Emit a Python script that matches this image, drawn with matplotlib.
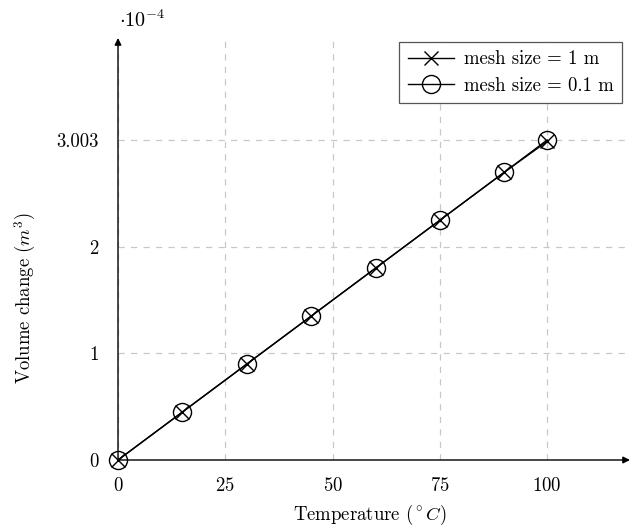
import matplotlib
matplotlib.use("Agg")
import matplotlib.pyplot as plt

plt.rcParams['font.family'] = 'serif'
plt.rcParams['font.serif'] = ['cmr10']
plt.rcParams['mathtext.fontset'] = 'cm'
plt.rcParams['axes.formatter.use_mathtext'] = True

temps = [0, 15, 30, 45, 60, 75, 90, 100]
vol_1m = [0, 0.45, 0.90, 1.35, 1.80, 2.25, 2.70, 2.99]
vol_01m = [0, 0.45, 0.90, 1.35, 1.80, 2.25, 2.70, 3.003]
xticks = [0, 25, 50, 75, 100]
yticks = [0, 1, 2, 3.003]
yticklabels = ['0', '1', '2', '3.003']

FS = 13.5

fig = plt.figure(figsize=(6.33, 5.28), dpi=100)
L, B, W, H = 118, 68, 512, 422
ax = fig.add_axes([L/633, B/528, W/633, H/528])

ax.plot(temps, vol_1m, color='black', lw=1.0, marker='x', ms=9.5, mew=1.0,
        label='mesh size = 1 m', clip_on=False, zorder=5)
ax.plot(temps, vol_01m, color='black', lw=1.0, marker='o', ms=13, mew=1.0,
        mfc='none', label='mesh size = 0.1 m', clip_on=False, zorder=5)

ax.set_xlim(0, 119.3)
ax.set_ylim(0, 3.96)
ax.set_xticks(xticks)
ax.set_yticks(yticks)
ax.set_yticklabels(yticklabels)
ax.tick_params(length=0, labelsize=FS)
ax.tick_params(axis='x', pad=12)
ax.tick_params(axis='y', pad=14)
ax.grid(True, color='#c8c8c8', linestyle=(0, (5, 5)), lw=0.9)
ax.set_axisbelow(True)

for s in ['top', 'right', 'left', 'bottom']:
    ax.spines[s].set_visible(False)

ax.annotate('', xy=(1.0, 0), xytext=(0, 0), xycoords='axes fraction',
            arrowprops=dict(arrowstyle='-|>', color='black', lw=1.0,
                            mutation_scale=10, shrinkA=0, shrinkB=0))
ax.annotate('', xy=(0, 1.0), xytext=(0, 0), xycoords='axes fraction',
            arrowprops=dict(arrowstyle='-|>', color='black', lw=1.0,
                            mutation_scale=10, shrinkA=0, shrinkB=0))

ax.set_xlabel(r'Temperature ($^\circ C$)', fontsize=FS)
ax.set_ylabel(r'Volume change ($m^3$)', fontsize=FS)
ax.xaxis.set_label_coords((370 - L) / W, -(515 - (528 - B)) / H)
ax.yaxis.set_label_coords((25 - L) / W, (528 - B - 298) / H)
ax.xaxis.label.set_va('center')
ax.yaxis.label.set_va('center')

fig.text(119/633, 1 - 20/528, r'$\cdot 10^{-4}$', fontsize=FS + 1,
         ha='left', va='center')

leg = ax.legend(loc='upper right', bbox_to_anchor=(622/633, 1 - 42/528),
                bbox_transform=fig.transFigure, fontsize=FS, frameon=True,
                fancybox=False, edgecolor='#555555', framealpha=1,
                handlelength=2.5, handletextpad=0.5, borderpad=0.45,
                labelspacing=0.45, borderaxespad=0)
leg.get_frame().set_linewidth(0.9)

fig.savefig('out.png', dpi=100)
